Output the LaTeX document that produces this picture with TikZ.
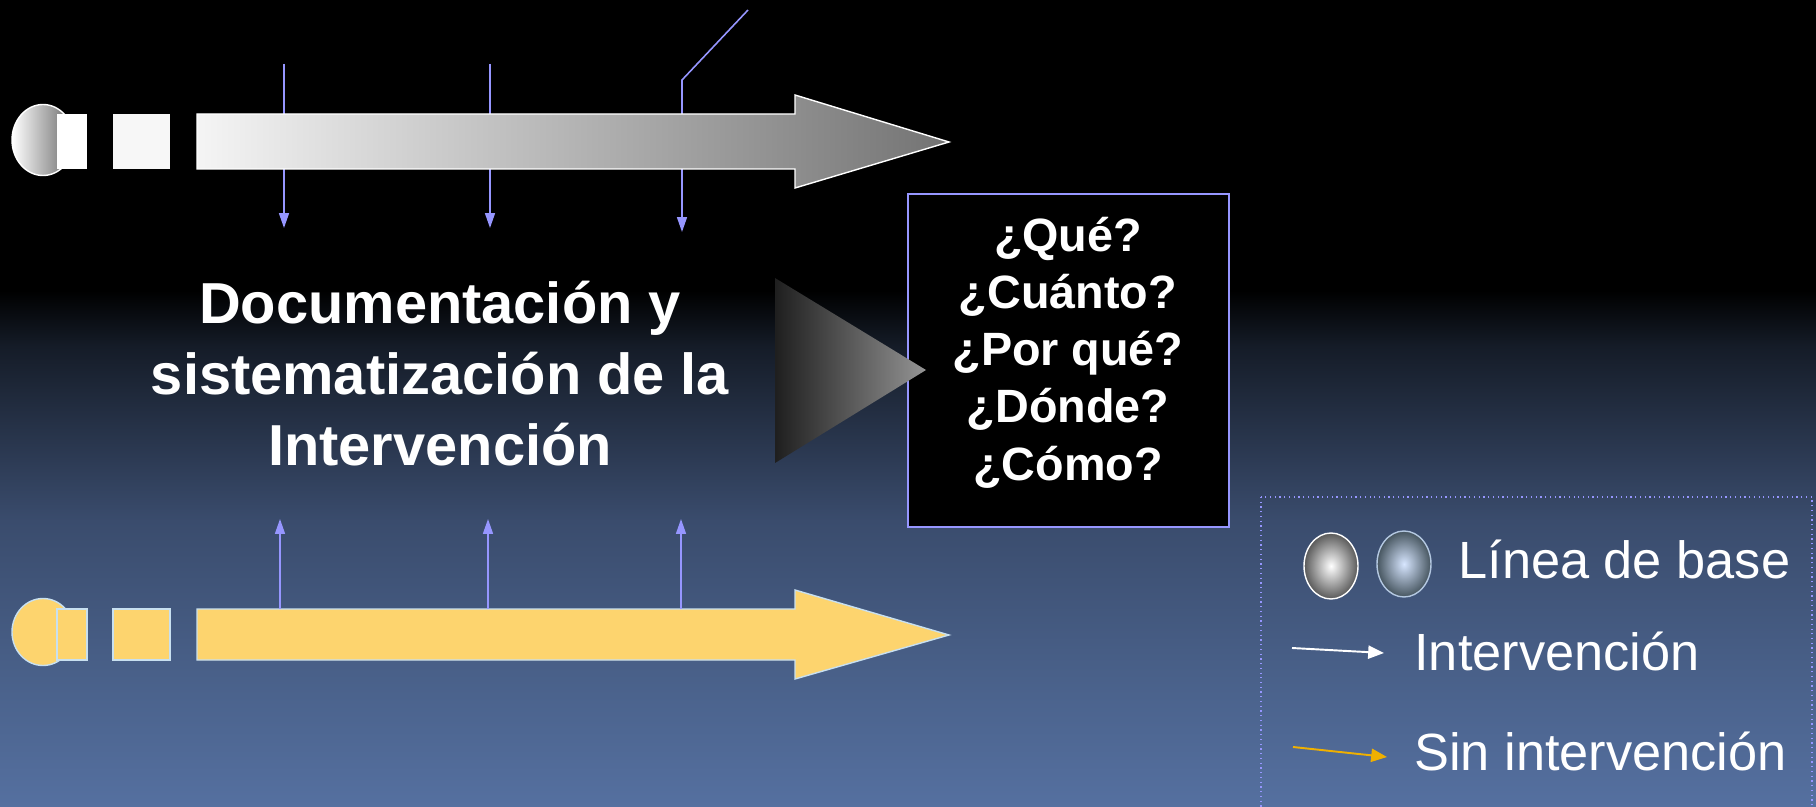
\documentclass[tikz,border=0pt]{standalone}
\usepackage{fontspec}
\setmainfont{Liberation Sans}
\usetikzlibrary{arrows.meta,positioning,calc}
\definecolor{Lavender}  {RGB}{150,150,255}
\definecolor{ArrowGold} {RGB}{253,212,110}
\definecolor{GoldEdge}  {RGB}{200,224,240}
\definecolor{LegendGold}{RGB}{240,176,0}
\definecolor{BlueGlow}  {RGB}{215,230,255}
\definecolor{BlueRim}   {RGB}{70,85,95}
\definecolor{BlueEdge}  {RGB}{180,200,225}
\definecolor{BgA}{RGB}{21,28,40}
\definecolor{BgB}{RGB}{58,76,109}
\definecolor{BgC}{RGB}{75,99,141}
\definecolor{BgD}{RGB}{85,112,160}
\pgfdeclareverticalshading{slidebg}{100bp}{color(0bp)=(BgD); color(25bp)=(BgD);
  color(31.94bp)=(BgC); color(42.72bp)=(BgB); color(53.5bp)=(BgA);
  color(57bp)=(black); color(100bp)=(black)}
\tikzset{
  lavline/.style={Lavender,line width=0.9pt},
  lavtip/.style={-{Triangle[length=8.5pt,width=5.7pt]}},
  bigtext/.style={text=white,align=center,inner sep=0pt,
                  font=\fontsize{32.9}{40.2}\selectfont\bfseries},
  qtext/.style={text=white,align=center,inner sep=0pt,
                font=\fontsize{26.6}{32.5}\selectfont\bfseries},
  legtext/.style={text=white,inner sep=0pt,anchor=base west,
                  font=\fontsize{29.8}{36}\selectfont}
}

\begin{document}
\begin{tikzpicture}[x=0.02cm,y=-0.02cm]
  \useasboundingbox (0,0) rectangle (1816,807);
  \clip (0,0) rectangle (1816,807);
  % Slide background
  \shade[shading=slidebg] (0,0) rectangle (1816,807);
  % Markers on the top arrow (drawn behind it)
  \coordinate (d1a) at (284,64);  \coordinate (d1b) at (284,228);
  \coordinate (d2a) at (490,64);  \coordinate (d2b) at (490,228);
  \coordinate (d3a) at (748,10);  \coordinate (d3k) at (682,80);
  \coordinate (d3b) at (682,232);
  \draw[lavline,lavtip] (d1a) -- (d1b);
  \draw[lavline,lavtip] (d2a) -- (d2b);
  \draw[lavline,lavtip] (d3a) -- (d3k) -- (d3b);
  % Top arrow: with intervention
  \shadedraw[left color=white,right color=black!60,draw=white,line width=0.8pt]
       (43,140) ellipse [x radius=31,y radius=35.5];
  \fill[white] (57,114) rectangle (87,169);
  \fill[white!97!black] (113,114) rectangle (170,169);
  \shadedraw[left color=white!96!black,right color=black!55,draw=white,line width=0.8pt]
       (197,114) -- (795,114) -- (795,95) -- (949,142) -- (795,188)
       -- (795,169) -- (197,169) -- cycle;
  % Bottom arrow: without intervention
  \filldraw[fill=ArrowGold,draw=GoldEdge,line width=0.8pt]
       (43,632) ellipse [x radius=31,y radius=33.5];
  \filldraw[fill=ArrowGold,draw=GoldEdge,line width=0.8pt] (57,609) rectangle (87,660);
  \filldraw[fill=ArrowGold,draw=GoldEdge,line width=0.8pt] (113,609) rectangle (170,660);
  \filldraw[fill=ArrowGold,draw=GoldEdge,line width=0.8pt]
       (197,609) -- (795,609) -- (795,590) -- (949,635) -- (795,679)
       -- (795,660) -- (197,660) -- cycle;
  % Markers on the bottom arrow
  \coordinate (u1a) at (280,609); \coordinate (u1b) at (280,519);
  \coordinate (u2a) at (488,609); \coordinate (u2b) at (488,519);
  \coordinate (u3a) at (681,609); \coordinate (u3b) at (681,519);
  \draw[lavline,lavtip] (u1a) -- (u1b);
  \draw[lavline,lavtip] (u2a) -- (u2b);
  \draw[lavline,lavtip] (u3a) -- (u3b);
  % Central label (base = last line)
  \node[bigtext,anchor=base] (docu) at (440,465)
       {Documentación y\\sistematización de la\\Intervención};
  % Question box
  \node[draw=Lavender,fill=black,line width=1.1pt,minimum width=6.42cm,
        minimum height=6.66cm] (qbox) at (1068.5,360.5) {};
  \node[qtext,anchor=base] (quest) at (1068,480)
       {¿Qué?\\¿Cuánto?\\¿Por qué?\\¿Dónde?\\¿Cómo?};
  % Pointer towards the box
  \shade[left color=black!88,right color=black!42]
       (775,278) -- (926,370) -- (775,463) -- cycle;
  % Legend
  \draw[Lavender,dotted,line width=0.7pt] (1261,497) rectangle (1812,850);
  \shadedraw[inner color=white,outer color=black!65,draw=white,line width=0.8pt]
       (1331,566) ellipse [x radius=27,y radius=33];
  \shadedraw[inner color=BlueGlow,outer color=BlueRim,draw=BlueEdge,line width=0.8pt]
       (1404,564) ellipse [x radius=27,y radius=33];
  \node[legtext] (lbase) at (1458,578) {Línea de base};
  \node[legtext] (lint) at (1414,670) {Intervención};
  \node[legtext] (lsin) at (1414,770) {Sin intervención};
  \coordinate (lw1) at (1292,648); \coordinate (lw2) at (1384,653);
  \coordinate (lo1) at (1293,747); \coordinate (lo2) at (1387,757);
  \draw[white,line width=1.1pt,-{Triangle[length=9pt,width=7.5pt]}] (lw1) -- (lw2);
  \draw[LegendGold,line width=1.1pt,-{Triangle[length=9pt,width=7.5pt]}] (lo1) -- (lo2);
\end{tikzpicture}
\end{document}
